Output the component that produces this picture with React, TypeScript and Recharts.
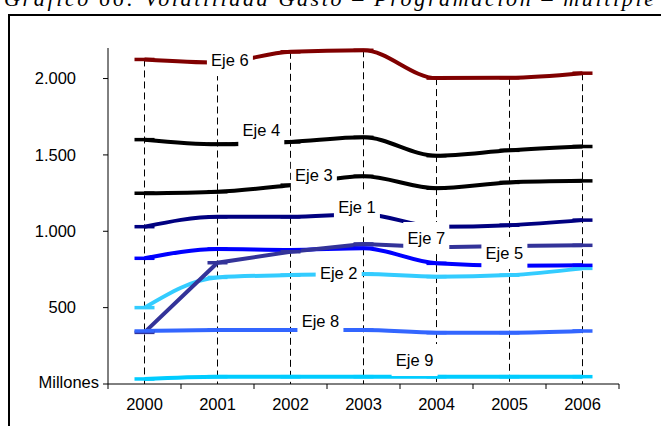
import React from "react";
import { LineChart, Line, XAxis, YAxis, ReferenceLine, ReferenceDot } from "recharts";

const YEARS = [2000, 2001, 2002, 2003, 2004, 2005, 2006];
const EJE_1 = [1030, 1095, 1095, 1112, 1030, 1040, 1073];
const EJE_2 = [500, 698, 713, 720, 703, 713, 757];
const EJE_3 = [1249, 1259, 1302, 1360, 1282, 1320, 1330];
const EJE_4 = [1600, 1570, 1585, 1615, 1495, 1530, 1555];
const EJE_5 = [823, 884, 878, 889, 790, 775, 777];
const EJE_6 = [2125, 2105, 2175, 2185, 2003, 2005, 2035];
const EJE_7 = [338, 794, 866, 917, 895, 904, 908];
const EJE_8 = [347, 354, 354, 354, 336, 336, 347];
const EJE_9 = [33, 48, 48, 48, 48, 48, 48];

const SERIES_KEYS = ["e1", "e2", "e3", "e4", "e5", "e6", "e7", "e8", "e9"];
const SERIES_VALUES = [EJE_1, EJE_2, EJE_3, EJE_4, EJE_5, EJE_6, EJE_7, EJE_8, EJE_9];
const SERIES_COLORS = ["#000080", "#33CCFF", "#000000", "#000000", "#0000FF", "#800000", "#333399", "#3366FF", "#00CCFF"];
const SERIES_CURVE = ["monotone", "monotone", "monotone", "monotone", "monotone", "monotone", "linear", "monotone", "monotone"];

const LABEL_NAMES = ["Eje 6", "Eje 4", "Eje 3", "Eje 1", "Eje 7", "Eje 5", "Eje 2", "Eje 8", "Eje 9"];
const LABEL_X = [2001.17, 2001.6, 2002.32, 2002.91, 2003.86, 2004.93, 2002.66, 2002.41, 2003.7];
const LABEL_Y = [2121, 1663, 1368, 1159, 956, 858, 727, 412, 157];

const Y_TICKS = [0, 500, 1000, 1500, 2000];
const X_BOUNDS = [1999.5, 2000.5, 2001.5, 2002.5, 2003.5, 2004.5, 2005.5, 2006.5];

const TITLE = "Gráfico 66: Volatilidad Gasto – Programación – multiple";

const data = YEARS.map((year, i) => {
  const row: Record<string, number> = { year };
  SERIES_KEYS.forEach((k, j) => {
    row[k] = SERIES_VALUES[j][i];
  });
  return row;
});

const tops = YEARS.map((_, i) => Math.max(...SERIES_VALUES.map((s) => s[i])));

const W = 661;
const H = 426;
const Y_AXIS_W = 108;
const RIGHT = 42;
const PLOT_W = W - Y_AXIS_W - RIGHT;
const HALF_BAND = PLOT_W / 7 / 2;
const FONT = "'Liberation Sans', Arial, sans-serif";
const FS = 16.5;

const fmt = (v: number) => String(v).replace(/\B(?=(\d{3})+(?!\d))/g, ".");

const XTick = (props: any) => {
  const { x, y, payload } = props;
  const v = payload.value;
  if (v > 2006) return <g />;
  return (
    <text x={x + HALF_BAND} y={y} dy="0.71em" textAnchor="middle" fill="#000" fontSize={FS} fontFamily={FONT}>
      {Math.round(v + 0.5)}
    </text>
  );
};

const YTick = (props: any) => {
  const { x, y, payload } = props;
  const v = payload.value;
  if (v === 0) {
    return (
      <text x={x + 23} y={y - 2} dy="0.355em" textAnchor="end" fill="#000" fontSize={FS} fontFamily={FONT}>
        Millones
      </text>
    );
  }
  return (
    <text x={x} y={y} dy="0.355em" textAnchor="end" fill="#000" fontSize={FS} fontFamily={FONT}>
      {fmt(v)}
    </text>
  );
};

const makeDot = (color: string) => (props: any) => {
  const { cx, cy, index } = props;
  if (cx == null || cy == null) return <g key={index} />;
  return <line key={index} x1={cx - 10} x2={cx + 10} y1={cy} y2={cy} stroke={color} strokeWidth={3.5} />;
};

const makeLabel = (text: string) => (props: any) => {
  const { cx, cy } = props;
  return (
    <g>
      <rect x={cx - 23} y={cy - 16} width={46} height={32} fill="#fff" />
      <text x={cx} y={cy} dy="0.36em" textAnchor="middle" fill="#000" fontSize={FS} fontFamily={FONT}>
        {text}
      </text>
    </g>
  );
};

export default function App() {
  return (
    <div style={{ position: "absolute", left: 0, top: 0, width: W, height: H, overflow: "hidden", background: "#fff" }}>
      <svg style={{ position: "absolute", left: 0, top: 0 }} width={W} height={20}>
        <text
          x={4}
          y={6}
          textLength={650}
          lengthAdjust="spacing"
          fontFamily="'Liberation Serif', 'Times New Roman', serif"
          fontStyle="italic"
          fontSize={22}
          fill="#000"
        >
          {TITLE}
        </text>
      </svg>
      <div
        style={{
          position: "absolute",
          left: 8,
          top: 14,
          width: 720,
          height: 500,
          border: "2px solid #000",
          boxSizing: "border-box",
        }}
      />
      <div style={{ position: "absolute", left: 0, top: 0 }}>
        <LineChart width={W} height={H} data={data} margin={{ top: 48, right: RIGHT, bottom: 0, left: 0 }}>
          <XAxis
            dataKey="year"
            type="number"
            domain={[1999.5, 2006.5]}
            ticks={X_BOUNDS}
            interval={0}
            height={42}
            tickSize={5}
            tickMargin={9}
            stroke="#000"
            tickLine={{ stroke: "#000" }}
            axisLine={{ stroke: "#000" }}
            tick={<XTick />}
          />
          <YAxis
            type="number"
            domain={[0, 2200]}
            ticks={Y_TICKS}
            interval={0}
            width={Y_AXIS_W}
            tickSize={5}
            tickMargin={27}
            stroke="#000"
            tickLine={{ stroke: "#000" }}
            axisLine={{ stroke: "#000" }}
            tick={<YTick />}
          />
          {YEARS.map((yr, i) => (
            <ReferenceLine
              key={"drop" + yr}
              segment={[
                { x: yr, y: tops[i] },
                { x: yr, y: 0 },
              ]}
              stroke="#000"
              strokeWidth={1}
              strokeDasharray="7 4"
              ifOverflow="visible"
            />
          ))}
          {SERIES_KEYS.map((k, j) => (
            <Line
              key={k}
              dataKey={k}
              type={SERIES_CURVE[j] as any}
              stroke={SERIES_COLORS[j]}
              strokeWidth={4}
              dot={makeDot(SERIES_COLORS[j])}
              activeDot={false}
              isAnimationActive={false}
            />
          ))}
          {LABEL_NAMES.map((name, i) => (
            <ReferenceDot
              key={name}
              x={LABEL_X[i]}
              y={LABEL_Y[i]}
              r={1}
              ifOverflow="visible"
              shape={makeLabel(name)}
            />
          ))}
        </LineChart>
      </div>
    </div>
  );
}
